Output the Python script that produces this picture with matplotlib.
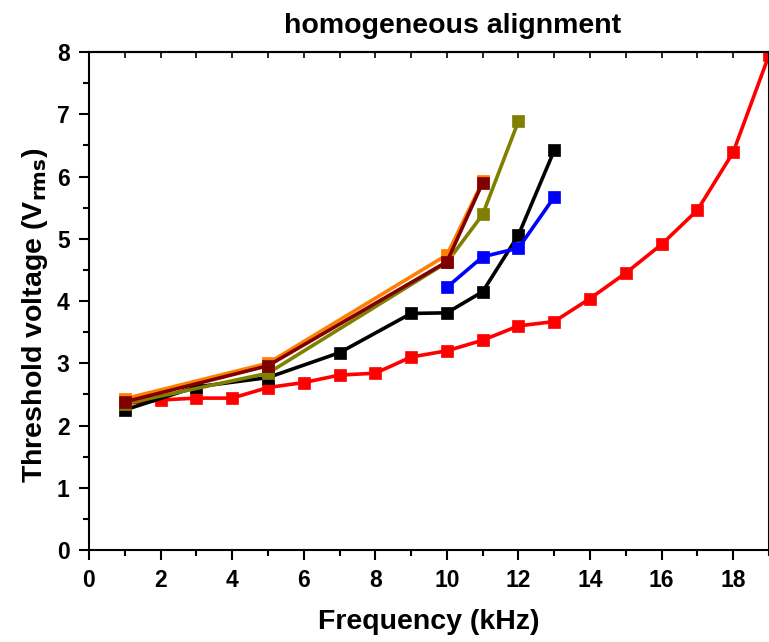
import numpy as np
import matplotlib.pyplot as plt
from matplotlib.ticker import MultipleLocator

plt.rcParams['font.family'] = ['Liberation Sans', 'DejaVu Sans']
plt.rcParams['font.weight'] = 'bold'

# data
f_red = [1, 2, 3, 4, 5, 6, 7, 8, 9, 10, 11, 12, 13, 14, 15, 16, 17, 18, 19]
v_red = [2.35, 2.41, 2.44, 2.44, 2.61, 2.69, 2.81, 2.84, 3.10, 3.20, 3.37, 3.60,
         3.67, 4.04, 4.45, 4.91, 5.46, 6.39, 7.95]

f_black = [1, 3, 5, 7, 9, 10, 11, 12, 13]
v_black = [2.25, 2.62, 2.77, 3.17, 3.80, 3.81, 4.15, 5.06, 6.42]

f_blue = [10, 11, 12, 13]
v_blue = [4.22, 4.71, 4.85, 5.67]

f_olive = [1, 5, 10, 11, 12]
v_olive = [2.35, 2.84, 4.62, 5.39, 6.89]

f_orange = [1, 5, 10, 11]
v_orange = [2.43, 3.0, 4.74, 5.92]

f_brown = [1, 5, 10, 11]
v_brown = [2.38, 2.96, 4.63, 5.90]

series = [
    (f_red, v_red, '#ff0000'),
    (f_black, v_black, '#000000'),
    (f_blue, v_blue, '#0000ff'),
    (f_olive, v_olive, '#808000'),
    (f_orange, v_orange, '#ff8000'),
    (f_brown, v_brown, '#800000'),
]

fig = plt.figure(figsize=(7.69, 6.42), dpi=100)
ax = fig.add_axes([0.1157, 0.1433, 0.8843, 0.7757])

for f, v, col in series:
    ax.plot(f, v, '-s', color=col, lw=2.6, ms=8.5, mec=col, mew=0.5)

ax.set_xlim(0, 19)
ax.set_ylim(0, 8)
ax.xaxis.set_major_locator(MultipleLocator(2))
ax.xaxis.set_minor_locator(MultipleLocator(1))
ax.yaxis.set_major_locator(MultipleLocator(1))
ax.yaxis.set_minor_locator(MultipleLocator(0.5))

ax.tick_params(which='both', direction='out', width=1.5, labelsize=16.5, pad=7)
ax.tick_params(which='major', length=7)
ax.tick_params(which='minor', length=4)
for lab in ax.get_xticklabels() + ax.get_yticklabels():
    lab.set_fontweight('bold')
for s in ax.spines.values():
    s.set_linewidth(1.5)

# top axis: inward ticks, no labels
top = ax.secondary_xaxis('top')
top.xaxis.set_major_locator(MultipleLocator(1))
top.tick_params(direction='in', length=4, width=1.2, labeltop=False)
top.spines['top'].set_linewidth(1.5)

ax.set_title('homogeneous alignment', fontsize=20.5, fontweight='bold', pad=14, x=0.534)
ax.set_xlabel('Frequency (kHz)', fontsize=20.5, fontweight='bold', labelpad=12)
ax.set_ylabel('Threshold voltage (V$_{\\mathbf{rms}}$)', fontsize=20.5, fontweight='bold', labelpad=5)
ax.yaxis.label.set_y(0.472)

fig.savefig('out.png', dpi=100)
